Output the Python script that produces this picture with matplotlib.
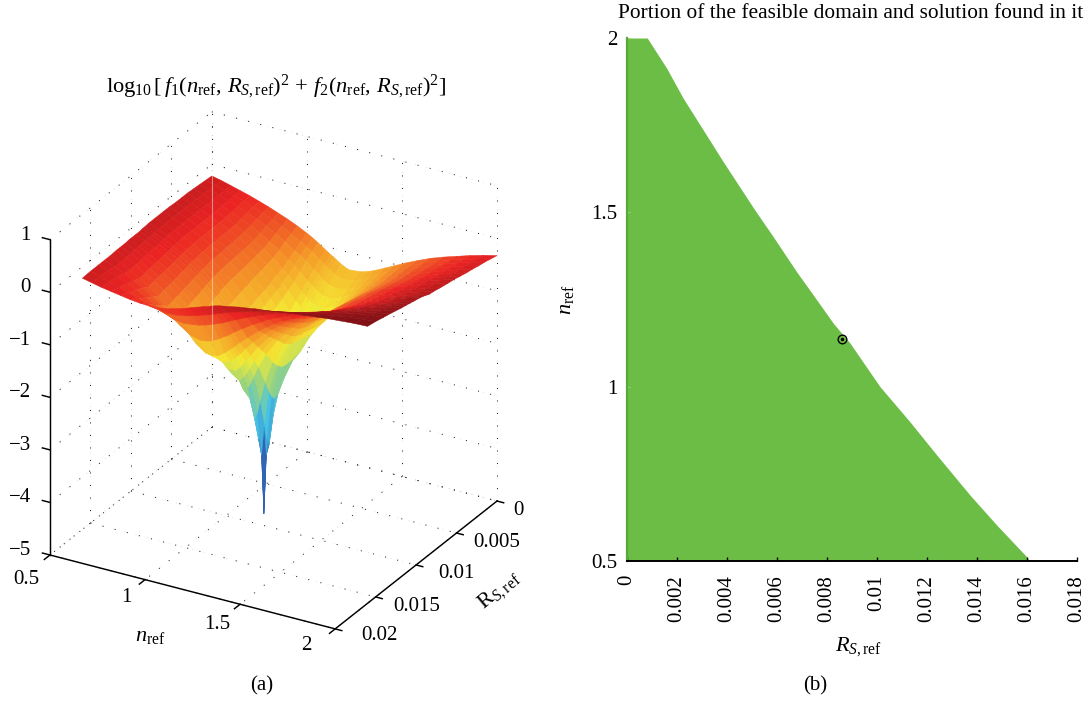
import numpy as np
import matplotlib
matplotlib.use("Agg")
import matplotlib.pyplot as plt
from matplotlib.colors import LinearSegmentedColormap
from mpl_toolkits.mplot3d import proj3d

plt.rcParams.update({
    "font.family": "Liberation Serif",
    "mathtext.fontset": "custom",
    "mathtext.rm": "Liberation Serif",
    "mathtext.it": "Liberation Serif:italic",
    "mathtext.bf": "Liberation Serif:bold",
    "font.size": 15,
})

# ---- panel (a): values read from the surface ----
n_grid = [0.5, 0.55, 0.6, 0.65, 0.7, 0.75, 0.8, 0.85, 0.9, 0.95, 1.0, 1.03, 1.06, 1.1, 1.125, 1.14, 1.155, 1.18,
          1.22, 1.28, 1.32, 1.36, 1.41, 1.46, 1.52, 1.58, 1.65, 1.72, 1.79, 1.86, 1.93, 2.0]
rs_grid = [0, 0.00075, 0.0015, 0.00225, 0.003, 0.00375, 0.0045, 0.00525, 0.006, 0.007, 0.0078, 0.0083, 0.0086,
           0.0089, 0.0094, 0.0102, 0.0107, 0.0112, 0.0118, 0.0125, 0.0132, 0.014, 0.015, 0.016]
z_a = [-.22,-.26,-.31,-.36,-.41,-.47,-.53,-.60,-.67,-.75,-.84,-.90,-.97,-1.07,-1.13,-1.16,-1.20,-1.26,-1.33,-1.31,-1.27,-1.21,-1.12,-1.03,-.92,-.82,-.71,-.62,-.54,-.46,-.39,-.33]
z_b = [-.21,-.26,-.31,-.37,-.42,-.49,-.55,-.63,-.71,-.81,-.91,-.98,-1.05,-1.16,-1.23,-1.27,-1.31,-1.37,-1.42,-1.39,-1.33,-1.25,-1.15,-1.05,-.93,-.82,-.71,-.61,-.52,-.44,-.37,-.30]
z_c = [-.20,-.25,-.31,-.37,-.43,-.50,-.58,-.66,-.76,-.87,-.99,-1.06,-1.14,-1.26,-1.33,-1.38,-1.42,-1.47,-1.51,-1.46,-1.39,-1.30,-1.18,-1.06,-.93,-.82,-.70,-.60,-.50,-.42,-.34,-.27]
z_d = [-.19,-.25,-.31,-.38,-.45,-.53,-.61,-.71,-.82,-.94,-1.07,-1.16,-1.25,-1.38,-1.45,-1.50,-1.54,-1.59,-1.61,-1.53,-1.45,-1.34,-1.20,-1.08,-.94,-.82,-.69,-.58,-.48,-.40,-.32,-.25]
z_e = [-.18,-.24,-.31,-.38,-.46,-.55,-.64,-.75,-.87,-1.00,-1.15,-1.25,-1.35,-1.49,-1.57,-1.62,-1.66,-1.70,-1.70,-1.60,-1.50,-1.37,-1.22,-1.09,-.94,-.82,-.68,-.57,-.47,-.38,-.30,-.22]
z_f = [-.18,-.24,-.31,-.39,-.47,-.56,-.65,-.77,-.89,-1.03,-1.19,-1.30,-1.42,-1.58,-1.68,-1.74,-1.79,-1.83,-1.81,-1.65,-1.53,-1.38,-1.22,-1.08,-.93,-.80,-.66,-.55,-.45,-.36,-.28,-.20]
z_g = [-.18,-.24,-.31,-.39,-.47,-.56,-.66,-.78,-.91,-1.06,-1.24,-1.36,-1.49,-1.69,-1.81,-1.88,-1.93,-1.98,-1.94,-1.71,-1.56,-1.39,-1.22,-1.07,-.91,-.78,-.64,-.53,-.42,-.33,-.25,-.17]
z_h = [-.17,-.24,-.31,-.39,-.47,-.57,-.67,-.79,-.93,-1.09,-1.28,-1.41,-1.56,-1.80,-1.95,-2.04,-2.11,-2.15,-2.04,-1.73,-1.56,-1.37,-1.19,-1.04,-.88,-.75,-.61,-.50,-.40,-.30,-.22,-.14]
z_i = [-.17,-.24,-.31,-.39,-.47,-.57,-.68,-.80,-.95,-1.12,-1.32,-1.47,-1.65,-1.94,-2.14,-2.26,-2.34,-2.37,-2.16,-1.76,-1.56,-1.36,-1.17,-1.01,-.85,-.72,-.58,-.47,-.37,-.28,-.20,-.12]
z_j = [-.17,-.24,-.31,-.39,-.48,-.58,-.69,-.82,-.97,-1.15,-1.38,-1.55,-1.75,-2.10,-2.38,-2.54,-2.63,-2.56,-2.19,-1.72,-1.51,-1.32,-1.13,-.97,-.82,-.69,-.55,-.44,-.34,-.25,-.17,-.09]
z_k = [-.17,-.24,-.31,-.40,-.49,-.60,-.71,-.84,-1.00,-1.20,-1.44,-1.62,-1.87,-2.34,-2.80,-3.13,-3.21,-2.78,-2.19,-1.68,-1.47,-1.27,-1.09,-.94,-.78,-.65,-.52,-.41,-.31,-.22,-.14,-.06]
z_l = [-.18,-.25,-.32,-.41,-.50,-.60,-.72,-.86,-1.02,-1.22,-1.47,-1.67,-1.93,-2.48,-3.14,-3.92,-3.70,-2.81,-2.17,-1.66,-1.46,-1.26,-1.08,-.92,-.77,-.64,-.51,-.40,-.30,-.21,-.13,-.05]
z_m = [-.18,-.25,-.33,-.42,-.51,-.61,-.73,-.87,-1.04,-1.24,-1.50,-1.72,-1.99,-2.59,-3.43,-5.00,-3.55,-2.72,-2.11,-1.63,-1.43,-1.24,-1.06,-.91,-.76,-.63,-.50,-.39,-.29,-.20,-.11,-.03]
z_n = [-.19,-.26,-.34,-.43,-.52,-.63,-.75,-.89,-1.05,-1.27,-1.53,-1.76,-2.04,-2.68,-3.57,-3.85,-3.23,-2.60,-2.06,-1.60,-1.41,-1.22,-1.05,-.90,-.75,-.62,-.49,-.38,-.27,-.18,-.09,-.01]
z_o = [-.19,-.27,-.35,-.44,-.54,-.65,-.77,-.92,-1.09,-1.31,-1.59,-1.83,-2.12,-2.75,-3.11,-2.98,-2.73,-2.36,-1.94,-1.53,-1.35,-1.17,-1.01,-.87,-.73,-.60,-.47,-.35,-.25,-.15,-.06,.02]
z_p = [-.19,-.27,-.36,-.46,-.56,-.68,-.81,-.97,-1.15,-1.38,-1.68,-1.92,-2.18,-2.48,-2.42,-2.31,-2.18,-1.97,-1.69,-1.37,-1.21,-1.06,-.92,-.78,-.65,-.53,-.41,-.31,-.21,-.13,-.04,.05]
z_q = [-.20,-.28,-.37,-.47,-.57,-.70,-.83,-.99,-1.18,-1.41,-1.71,-1.95,-2.15,-2.25,-2.15,-2.07,-1.97,-1.81,-1.56,-1.28,-1.14,-.99,-.85,-.72,-.60,-.48,-.37,-.27,-.17,-.09,-.01,.07]
z_r = [-.20,-.29,-.38,-.48,-.58,-.71,-.85,-1.02,-1.21,-1.44,-1.71,-1.89,-2.00,-2.00,-1.91,-1.84,-1.76,-1.63,-1.43,-1.18,-1.05,-.92,-.79,-.67,-.55,-.44,-.33,-.23,-.14,-.06,.02,.09]
z_s = [-.20,-.29,-.39,-.50,-.60,-.73,-.87,-1.04,-1.24,-1.46,-1.66,-1.76,-1.80,-1.74,-1.66,-1.60,-1.54,-1.43,-1.27,-1.05,-.94,-.82,-.70,-.59,-.48,-.38,-.27,-.18,-.09,-.02,.05,.11]
z_t = [-.21,-.30,-.40,-.51,-.62,-.76,-.90,-1.07,-1.27,-1.47,-1.60,-1.62,-1.60,-1.50,-1.42,-1.37,-1.32,-1.23,-1.10,-.92,-.81,-.71,-.61,-.51,-.41,-.31,-.21,-.12,-.05,.02,.08,.14]
z_u = [-.21,-.30,-.38,-.47,-.56,-.68,-.80,-.95,-1.10,-1.22,-1.27,-1.26,-1.23,-1.15,-1.09,-1.06,-1.02,-.95,-.85,-.71,-.63,-.54,-.46,-.38,-.29,-.21,-.12,-.04,.02,.07,.12,.17]
z_v = [-.21,-.27,-.34,-.42,-.50,-.60,-.70,-.81,-.88,-.90,-.88,-.86,-.83,-.78,-.74,-.72,-.70,-.65,-.58,-.48,-.42,-.36,-.29,-.23,-.16,-.10,-.03,.03,.08,.13,.17,.20]
z_w = [-.21,-.26,-.32,-.38,-.43,-.49,-.55,-.60,-.63,-.62,-.59,-.56,-.53,-.48,-.45,-.43,-.41,-.37,-.32,-.25,-.21,-.17,-.12,-.08,-.03,.02,.07,.11,.15,.19,.22,.24]
z_x = [-.22,-.26,-.30,-.33,-.36,-.39,-.41,-.42,-.41,-.38,-.33,-.30,-.26,-.21,-.18,-.16,-.15,-.11,-.07,-.03,0,.02,.05,.07,.10,.13,.16,.19,.22,.24,.26,.27]
z_rows = [z_a, z_b, z_c, z_d, z_e, z_f, z_g, z_h, z_i, z_j, z_k, z_l, z_m, z_n, z_o, z_p, z_q, z_r, z_s, z_t, z_u, z_v, z_w, z_x]

n_ticks = [0.5, 1, 1.5, 2]
n_tick_labels = ["0.5", "1", "1.5", "2"]
rs_ticks = [0, 0.005, 0.01, 0.015, 0.02]
rs_tick_labels = ["0", "0.005", "0.01", "0.015", "0.02"]
z_ticks = [1, 0, -1, -2, -3, -4, -5]
z_tick_labels = ["1", "0", "\u22121", "\u22122", "\u22123", "\u22124", "\u22125"]

# ---- panel (b): feasible boundary and solution ----
bound_n = [2.0, 1.913, 1.827, 1.736, 1.645, 1.506, 1.430, 1.329, 1.263, 1.182, 1.125, 1.0, 0.899, 0.804, 0.689, 0.603, 0.512, 0.5]
bound_rs = [0.00081, 0.00159, 0.00225, 0.00305, 0.00385, 0.00512, 0.00585, 0.00679, 0.00745, 0.00825, 0.00892, 0.01012,
            0.01132, 0.01239, 0.01372, 0.01479, 0.01599, 0.0161]
solution_rs = 0.0086
solution_n = 1.138
b_xticks = [0, 0.002, 0.004, 0.006, 0.008, 0.01, 0.012, 0.014, 0.016, 0.018]
b_xlabels = ["0", "0.002", "0.004", "0.006", "0.008", "0.01", "0.012", "0.014", "0.016", "0.018"]
b_yticks = [0.5, 1, 1.5, 2]
b_ylabels = ["0.5", "1", "1.5", "2"]

W, H = 1089, 703
fig = plt.figure(figsize=(W / 100, H / 100), dpi=100)

# ---------------- panel (a) ----------------
cmap = LinearSegmentedColormap.from_list("jetcmyk", [
    (0.0, "#232a78"), (0.125, "#2d3ca0"), (0.25, "#3278be"), (0.375, "#46c3e6"),
    (0.5, "#96d282"), (0.625, "#f5eb32"), (0.75, "#f59628"), (0.875, "#eb2323"), (1.0, "#7d0f14")])

ax = fig.add_axes([0.0, 0.1, 0.5, 0.5 * W / H], projection="3d", proj_type="ortho", computed_zorder=False)
ax.set_axis_off()
ax.patch.set_alpha(0)
ax.view_init(elev=26.9, azim=-60.2)
ax.set_xlim(0.5, 2)
ax.set_ylim(0.02, 0)
ax.set_zlim(-5, 1)
ax.set_box_aspect((329, 326, 354), zoom=1.0)


def to_px(n, r, z):
    x, y, _ = proj3d.proj_transform(n, r, z, ax.get_proj())
    return ax.transData.transform((x, y))


# fit the box to its place in the figure
target_A = np.array([50.0, H - 555.0])
target_C = np.array([497.0, H - 501.0])
for _ in range(3):
    fig.canvas.draw()
    pa, pc = to_px(0.5, 0.02, -5), to_px(2, 0, -5)
    s = (target_C[0] - target_A[0]) / (pc[0] - pa[0])
    bb = ax.get_position()
    ww = bb.width * s
    hh = bb.height * s
    ax.set_position([bb.x0, bb.y0, ww, hh])
    fig.canvas.draw()
    pa = to_px(0.5, 0.02, -5)
    bb = ax.get_position()
    ax.set_position([bb.x0 + (target_A[0] - pa[0]) / W, bb.y0 + (target_A[1] - pa[1]) / H, bb.width, bb.height])
    fig.canvas.draw()

grid_kw = dict(color="#2a2a2a", lw=0.75, linestyle=(0, (1, 11)), zorder=1)
over_kw = dict(color="#777777", lw=0.6, linestyle=(0, (1, 13)), zorder=4, alpha=0.3)
for kw in (grid_kw, over_kw):
    for z in z_ticks:
        ax.plot([0.5, 0.5], [0.02, 0], [z, z], **kw)
        ax.plot([0.5, 2], [0, 0], [z, z], **kw)
    for r in rs_ticks:
        ax.plot([0.5, 0.5], [r, r], [-5, 1], **kw)
        ax.plot([0.5, 2], [r, r], [-5, -5], **kw)
    for n in n_ticks:
        ax.plot([n, n], [0, 0], [-5, 1], **kw)
        ax.plot([n, n], [0, 0.02], [-5, -5], **kw)

N, R = np.meshgrid(n_grid, rs_grid)
Z = np.array(z_rows)
surf = ax.plot_surface(N, R, Z, cmap=cmap, vmin=-5, vmax=0.27, rstride=1, cstride=1, shade=False,
                       linewidth=0.35, antialiased=True, zorder=2)
surf.set_edgecolor("face")
ax.plot([0.5, 0.5], [0, 0], [-3.35, -0.22], color="white", lw=0.8, alpha=0.45, zorder=5)

ax_kw = dict(color="black", lw=1.05, zorder=6, solid_capstyle="projecting")
ax.plot([0.5, 2], [0.02, 0.02], [-5, -5], **ax_kw)
ax.plot([2, 2], [0.02, 0], [-5, -5], **ax_kw)
ax.plot([0.5, 0.5], [0.02, 0.02], [-5, 1], **ax_kw)
for z in z_ticks:
    ax.plot([0.5, 0.46], [0.02, 0.02], [z, z], **ax_kw)
for n in n_ticks:
    ax.plot([n, n], [0.02, 0.0207], [-5, -5], **ax_kw)
for r in rs_ticks:
    ax.plot([2, 2.035], [r, r], [-5, -5], **ax_kw)


def place(n, r, z, text, dx, dy, **kw):
    p = to_px(n, r, z)
    fig.text((p[0] + dx) / W, (p[1] + dy) / H, text, ha="center", va="center", **kw)


for z, lab in zip(z_ticks, z_tick_labels):
    p = to_px(0.5, 0.02, z)
    fig.text(31 / W, (p[1] + 4.5) / H, lab, ha="right", va="center")
for n, lab, d in zip(n_ticks, n_tick_labels, [(-24, -24), (-19, -18), (-23, -20), (-29, -17)]):
    place(n, 0.02, -5, lab, d[0], d[1])
for r, lab, d in zip(rs_ticks, rs_tick_labels, [(21, -9), (40, -9), (40, -9), (41, -10), (44, -7)]):
    place(2, r, -5, lab, d[0], d[1])
fig.text(150 / W, 1 - 636 / H, r"$n_{\mathrm{ref}}$", ha="center", va="center", fontsize=16)
fig.text(499 / W, 1 - 591 / H, r"$\mathrm{R}_{S,\mathrm{ref}}$", ha="center", va="center", rotation=40, fontsize=16)
fig.text(276 / W, 1 - 87 / H,
         r"$\log_{10}[\,f_1(n_{\mathrm{ref}},\,R_{S,\mathrm{ref}})^2\,+\,f_2(n_{\mathrm{ref}},\,R_{S,\mathrm{ref}})^2]$",
         ha="center", va="center", fontsize=16.2)
fig.text(262 / W, 1 - 686 / H, "(a)", ha="center", va="center")

# ---------------- panel (b) ----------------
bx = fig.add_axes([627 / W, 1 - 561 / H, 450 / W, 523 / H])
bx.set_xlim(0, 0.018)
bx.set_ylim(0.5, 2)
bx.fill_betweenx(bound_n, 0, bound_rs, color="#6cbd45", lw=0)
bx.plot([solution_rs], [solution_n], "o", mfc="none", mec="black", ms=6.2, mew=1.0)
bx.plot([solution_rs], [solution_n], "o", color="black", ms=1.5)
for s in ("top", "right"):
    bx.spines[s].set_visible(False)
bx.spines["left"].set_color("#5aa83c")
bx.spines["left"].set_linewidth(1.6)
bx.spines["bottom"].set_linewidth(1.4)
bx.set_xticks(b_xticks)
bx.set_xticklabels(b_xlabels, rotation=90)
bx.set_yticks(b_yticks)
bx.set_yticklabels(b_ylabels)
bx.tick_params(axis="x", direction="in", length=3, width=1.0, pad=10)
bx.tick_params(axis="y", direction="in", length=2, width=0.6, color="#a8d890", pad=7)
for lab in bx.get_xticklabels():
    lab.set_verticalalignment("top")
fig.text(851 / W, 1 - 14 / H, "Portion of the feasible domain and solution found in it", ha="center", va="center", fontsize=15.4)
fig.text(858 / W, 1 - 647 / H, r"$R_{S,\mathrm{ref}}$", ha="center", va="center", fontsize=16)
fig.text(566 / W, 1 - 300 / H, r"$n_{\mathrm{ref}}$", ha="center", va="center", rotation=90, fontsize=16)
fig.text(815 / W, 1 - 686 / H, "(b)", ha="center", va="center")

fig.savefig("out.png", dpi=100)
